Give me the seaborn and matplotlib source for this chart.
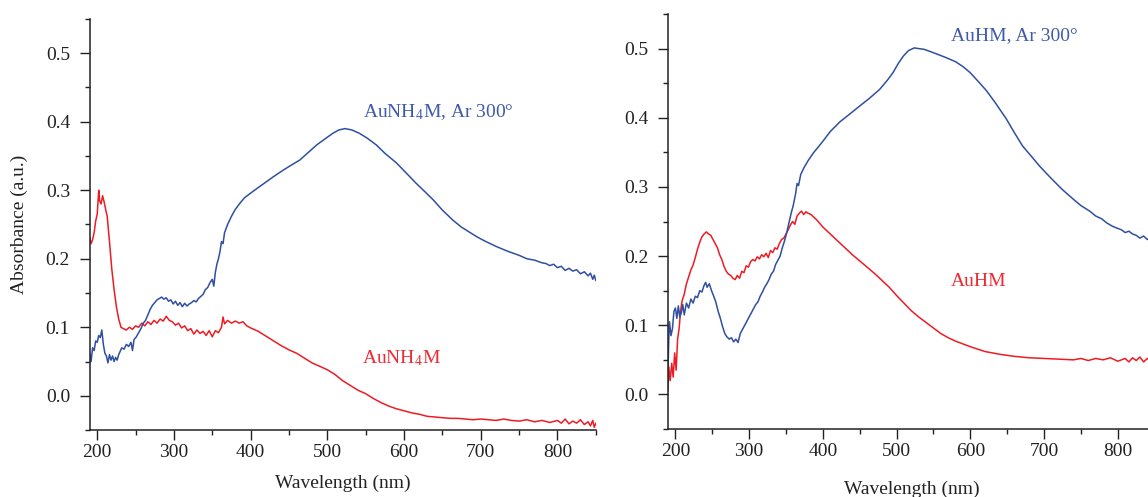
import numpy as np
import pandas as pd
import matplotlib
matplotlib.use("Agg")
import matplotlib.pyplot as plt
from matplotlib.ticker import MultipleLocator
import seaborn as sns

# ---------------- data ----------------
# Left panel, AuNH4M (red)
l_red_wl = [190, 192, 194, 196, 198, 200, 202, 203, 205, 207, 209, 211, 213, 216, 219, 222, 225, 228,
            231, 234, 238, 242, 246, 250, 254, 258, 262, 266, 270, 274, 278, 282, 286, 290, 294, 298,
            302, 306, 310, 314, 318, 322, 326, 330, 334, 338, 342, 346, 350, 354, 358, 362, 364, 366,
            370, 375, 380, 385, 390, 395, 400, 410, 420, 430, 440, 450, 460, 470, 480, 490, 500, 510,
            520, 530, 540, 550, 560, 570, 580, 590, 600, 610, 620, 630, 640, 650, 660, 670, 680, 690,
            700, 710, 720, 730, 740, 750, 760, 770, 780, 790, 800, 805, 810, 815, 820, 825, 830, 835,
            840, 843, 846, 848, 850]
l_red_abs = [0.232, 0.222, 0.228, 0.238, 0.255, 0.265, 0.300, 0.285, 0.280, 0.292, 0.283, 0.272, 0.262,
             0.225, 0.185, 0.155, 0.130, 0.112, 0.100, 0.098, 0.096, 0.100, 0.097, 0.102, 0.100, 0.106,
             0.102, 0.108, 0.104, 0.110, 0.106, 0.112, 0.109, 0.116, 0.110, 0.108, 0.103, 0.106, 0.099,
             0.102, 0.095, 0.098, 0.090, 0.096, 0.091, 0.094, 0.088, 0.095, 0.086, 0.095, 0.092, 0.100,
             0.115, 0.105, 0.110, 0.106, 0.109, 0.106, 0.108, 0.102, 0.099, 0.094, 0.087, 0.080, 0.073,
             0.067, 0.062, 0.055, 0.048, 0.043, 0.038, 0.031, 0.022, 0.015, 0.008, 0.003, -0.004, -0.010,
             -0.015, -0.019, -0.022, -0.025, -0.027, -0.030, -0.031, -0.032, -0.033, -0.033, -0.034,
             -0.035, -0.034, -0.035, -0.036, -0.034, -0.036, -0.037, -0.035, -0.038, -0.036, -0.039,
             -0.036, -0.040, -0.034, -0.041, -0.037, -0.040, -0.035, -0.042, -0.038, -0.044, -0.036,
             -0.046, -0.040]

# Left panel, AuNH4M, Ar 300° (blue)
l_blue_wl = [190, 192, 194, 196, 198, 200, 202, 204, 206, 208, 210, 212, 214, 216, 218, 220, 222, 224,
             226, 228, 230, 232, 235, 238, 241, 244, 246, 248, 251, 254, 257, 260, 263, 266, 269, 272,
             275, 278, 281, 284, 287, 290, 293, 296, 299, 302, 305, 308, 311, 314, 317, 320, 323, 326,
             329, 332, 335, 338, 341, 344, 347, 350, 352, 354, 356, 358, 360, 362, 364, 366, 370, 375,
             380, 386, 392, 399, 410, 420, 430, 442, 452, 464, 475, 486, 497, 507, 515, 523, 532, 542,
             552, 564, 575, 590, 603, 615, 628, 638, 650, 664, 675, 685, 695, 705, 720, 735, 750, 760,
             770, 780, 785, 790, 795, 800, 805, 810, 815, 820, 825, 830, 835, 840, 843, 846, 848, 850]
l_blue_abs = [0.062, 0.050, 0.070, 0.066, 0.080, 0.078, 0.088, 0.085, 0.096, 0.075, 0.062, 0.058, 0.048,
              0.060, 0.052, 0.058, 0.050, 0.056, 0.052, 0.060, 0.065, 0.070, 0.068, 0.075, 0.072, 0.078,
              0.066, 0.082, 0.086, 0.092, 0.098, 0.106, 0.110, 0.118, 0.126, 0.132, 0.136, 0.140, 0.142,
              0.144, 0.141, 0.143, 0.138, 0.140, 0.134, 0.138, 0.132, 0.136, 0.130, 0.135, 0.131, 0.134,
              0.136, 0.139, 0.137, 0.142, 0.145, 0.148, 0.155, 0.158, 0.165, 0.170, 0.160, 0.180, 0.192,
              0.200, 0.210, 0.225, 0.222, 0.238, 0.250, 0.262, 0.272, 0.281, 0.289, 0.295, 0.304, 0.312,
              0.320, 0.329, 0.336, 0.344, 0.355, 0.366, 0.375, 0.383, 0.388, 0.390, 0.388, 0.383, 0.376,
              0.366, 0.354, 0.340, 0.325, 0.311, 0.297, 0.286, 0.271, 0.256, 0.246, 0.239, 0.232, 0.226,
              0.218, 0.211, 0.205, 0.200, 0.198, 0.194, 0.193, 0.190, 0.192, 0.187, 0.189, 0.183, 0.186,
              0.182, 0.184, 0.178, 0.181, 0.175, 0.179, 0.170, 0.176, 0.168]

# Right panel, AuHM (red)
r_red_wl = [190, 191, 193, 195, 197, 199, 201, 203, 205, 207, 209, 212, 215, 218, 221, 224, 227, 230,
            233, 236, 239, 242, 245, 248, 251, 254, 257, 260, 263, 266, 269, 272, 275, 278, 281, 284,
            287, 290, 293, 296, 299, 302, 305, 308, 311, 314, 317, 320, 323, 326, 329, 332, 335, 338,
            341, 344, 347, 350, 353, 356, 359, 362, 365, 368, 371, 374, 377, 380, 384, 388, 392, 396,
            400, 410, 420, 430, 440, 450, 460, 470, 480, 490, 500, 510, 520, 530, 540, 550, 560, 570,
            580, 590, 600, 620, 640, 660, 680, 700, 720, 740, 750, 760, 770, 780, 790, 800, 810, 815,
            820, 825, 830, 835, 840, 845, 850]
r_red_abs = [0.005, 0.040, 0.020, 0.045, 0.025, 0.060, 0.035, 0.080, 0.095, 0.120, 0.135, 0.145, 0.160,
             0.170, 0.180, 0.187, 0.198, 0.210, 0.220, 0.228, 0.232, 0.235, 0.232, 0.230, 0.224, 0.218,
             0.212, 0.202, 0.195, 0.185, 0.178, 0.174, 0.172, 0.168, 0.166, 0.172, 0.168, 0.178, 0.176,
             0.186, 0.184, 0.192, 0.195, 0.193, 0.199, 0.196, 0.202, 0.199, 0.204, 0.198, 0.208, 0.205,
             0.212, 0.210, 0.218, 0.224, 0.226, 0.232, 0.238, 0.245, 0.250, 0.246, 0.258, 0.262, 0.265,
             0.260, 0.264, 0.262, 0.260, 0.256, 0.252, 0.247, 0.242, 0.232, 0.222, 0.212, 0.202, 0.193,
             0.184, 0.175, 0.165, 0.155, 0.143, 0.132, 0.121, 0.112, 0.104, 0.096, 0.088, 0.082, 0.077,
             0.073, 0.069, 0.062, 0.058, 0.055, 0.053, 0.052, 0.051, 0.050, 0.052, 0.049, 0.052, 0.050,
             0.053, 0.048, 0.052, 0.047, 0.053, 0.049, 0.054, 0.047, 0.052, 0.048, 0.052]

# Right panel, AuHM, Ar 300° (blue)
r_blue_wl = [190, 191, 192, 194, 196, 198, 200, 202, 204, 206, 208, 210, 212, 215, 218, 221, 224, 227,
             230, 233, 236, 239, 241, 243, 246, 249, 252, 255, 258, 261, 264, 267, 270, 273, 276, 279,
             282, 285, 288, 291, 294, 297, 300, 303, 306, 309, 312, 315, 318, 321, 324, 327, 330, 333,
             336, 339, 342, 345, 348, 351, 354, 357, 360, 363, 365, 367, 370, 374, 380, 387, 394, 400,
             410, 423, 436, 450, 463, 477, 488, 495, 502, 509, 516, 524, 530, 537, 545, 555, 567, 580,
             590, 600, 612, 622, 635, 649, 660, 671, 683, 694, 710, 725, 740, 750, 762, 770, 778, 785,
             793, 800, 805, 810, 815, 820, 825, 830, 835, 840, 845, 850]
r_blue_abs = [0.035, 0.080, 0.105, 0.085, 0.095, 0.120, 0.125, 0.110, 0.128, 0.112, 0.118, 0.130, 0.115,
              0.132, 0.125, 0.138, 0.132, 0.142, 0.140, 0.150, 0.148, 0.158, 0.162, 0.155, 0.160, 0.150,
              0.142, 0.133, 0.120, 0.110, 0.098, 0.088, 0.083, 0.080, 0.082, 0.076, 0.080, 0.075, 0.088,
              0.094, 0.100, 0.106, 0.112, 0.118, 0.124, 0.130, 0.134, 0.142, 0.148, 0.155, 0.160, 0.166,
              0.174, 0.178, 0.188, 0.194, 0.200, 0.212, 0.222, 0.234, 0.248, 0.262, 0.274, 0.290, 0.305,
              0.302, 0.318, 0.327, 0.338, 0.349, 0.358, 0.366, 0.380, 0.394, 0.405, 0.417, 0.428, 0.441,
              0.455, 0.465, 0.478, 0.489, 0.497, 0.501, 0.500, 0.499, 0.496, 0.492, 0.487, 0.481, 0.474,
              0.465, 0.451, 0.439, 0.420, 0.398, 0.378, 0.359, 0.344, 0.330, 0.312, 0.296, 0.282, 0.273,
              0.265, 0.258, 0.254, 0.248, 0.243, 0.240, 0.238, 0.234, 0.236, 0.232, 0.230, 0.226, 0.229,
              0.224, 0.227, 0.222]

x_ticks = [200, 300, 400, 500, 600, 700, 800]
y_ticks = [0.0, 0.1, 0.2, 0.3, 0.4, 0.5]
x_label = "Wavelength (nm)"
y_label = "Absorbance (a.u.)"
labels_left = ["AuNH$_{\\mathregular{4}}$M, Ar 300°", "AuNH$_{\\mathregular{4}}$M"]
labels_right = ["AuHM, Ar 300°", "AuHM"]

BLUE = "#2f4fa0"
RED = "#ec1c24"
BLUE_TXT = "#3f5aab"
RED_TXT = "#ee2a32"

# ---------------- style ----------------
sns.set_style("ticks")
plt.rcParams["font.family"] = ["Liberation Serif", "DejaVu Serif"]
plt.rcParams["mathtext.fontset"] = "stix"
plt.rcParams["mathtext.default"] = "rm"

FS = 14

fig = plt.figure(figsize=(11.48, 4.97), dpi=100)
axL = fig.add_axes([0.078, 0.1348, 0.519 - 0.078, 0.9618 - 0.1348])
axR = fig.add_axes([0.5819, 0.1368, 1.0058 - 0.5819, 0.9718 - 0.1368])


def draw(ax, wl_red, ab_red, wl_blue, ab_blue):
    dfr = pd.DataFrame({"wl": wl_red, "a": ab_red})
    dfb = pd.DataFrame({"wl": wl_blue, "a": ab_blue})
    sns.lineplot(data=dfr, x="wl", y="a", ax=ax, color=RED, lw=1.1, estimator=None, sort=False)
    sns.lineplot(data=dfb, x="wl", y="a", ax=ax, color=BLUE, lw=1.1, estimator=None, sort=False)
    ax.set_xlim(190, 850)
    ax.set_ylim(-0.05, 0.55)
    ax.set_xticks(x_ticks)
    ax.set_yticks(y_ticks)
    ax.set_yticklabels([f"{v:.1f}" for v in y_ticks])
    ax.xaxis.set_minor_locator(MultipleLocator(50))
    ax.yaxis.set_minor_locator(MultipleLocator(0.05))
    ax.tick_params(which="major", direction="out", length=7, width=1.0, labelsize=FS,
                   colors="#222222")
    ax.tick_params(axis="y", which="major", pad=7)
    ax.tick_params(axis="x", which="major", pad=3)
    ax.tick_params(which="minor", direction="out", length=3.5, width=1.0, colors="#222222")
    for s in ["top", "right"]:
        ax.spines[s].set_visible(False)
    for s in ["left", "bottom"]:
        ax.spines[s].set_linewidth(1.1)
        ax.spines[s].set_color("#222222")
    ax.set_ylabel("")


draw(axL, l_red_wl, l_red_abs, l_blue_wl, l_blue_abs)
draw(axR, r_red_wl, r_red_abs, r_blue_wl, r_blue_abs)
axL.set_xlabel(x_label, fontsize=FS, color="#222222", labelpad=10)
axR.set_xlabel(x_label, fontsize=FS, color="#222222", labelpad=15)
axL.set_ylabel(y_label, fontsize=FS, color="#222222", labelpad=13)

axL.text(546, 0.4075, labels_left[0], color=BLUE_TXT, fontsize=FS, ha="left", va="baseline")
axL.text(544.6, 0.047, labels_left[1], color=RED_TXT, fontsize=FS, ha="left", va="baseline")
axR.text(573.5, 0.5125, labels_right[0], color=BLUE_TXT, fontsize=FS, ha="left", va="baseline")
axR.text(573.5, 0.157, labels_right[1], color=RED_TXT, fontsize=FS, ha="left", va="baseline")

fig.savefig("out.png", dpi=100)
